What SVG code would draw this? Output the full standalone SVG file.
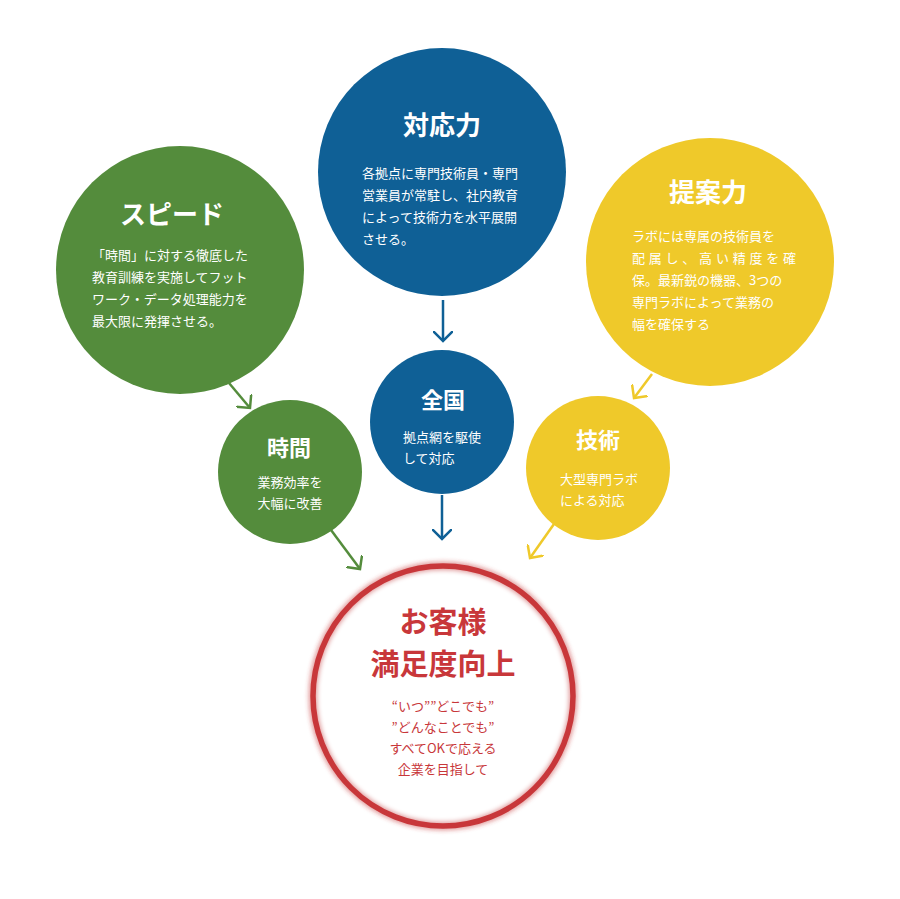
<svg xmlns="http://www.w3.org/2000/svg" width="900" height="899" viewBox="0 0 900 899">
<defs>
<style>
text{font-family:"Noto Sans CJK JP","Noto Sans",sans-serif;fill:#fff}
.t{font-size:26px;font-weight:bold;text-anchor:middle}
.ts{font-size:22px;font-weight:bold;text-anchor:middle}
.b{font-size:13px}
.s{font-size:13px;text-anchor:middle}
.blue{fill:#0f6096}.green{fill:#548c3c}.yellow{fill:#efc92a}
.r{fill:#c8373a}
.ln{fill:none;stroke-width:2.5}
</style>
<filter id="glow" x="-20%" y="-20%" width="140%" height="140%"><feGaussianBlur stdDeviation="2"/></filter>
<marker id="aB" markerWidth="20" markerHeight="20" refX="10" refY="10" orient="auto" markerUnits="userSpaceOnUse"><path d="M0,0 L10,10 L0,20" fill="none" stroke="#0f6096" stroke-width="2.5" transform="translate(0,0)"/></marker>
<marker id="aG" markerWidth="20" markerHeight="20" refX="10" refY="10" orient="auto" markerUnits="userSpaceOnUse"><path d="M0,0 L10,10 L0,20" fill="none" stroke="#548c3c" stroke-width="2.5"/></marker>
<marker id="aY" markerWidth="20" markerHeight="20" refX="10" refY="10" orient="auto" markerUnits="userSpaceOnUse"><path d="M0,0 L10,10 L0,20" fill="none" stroke="#efc92a" stroke-width="2.5"/></marker>
</defs>
<rect width="900" height="899" fill="#fff"/>
<g id="connectors">
<line class="ln" stroke="#0f6096" x1="443" y1="300" x2="443" y2="341" marker-end="url(#aB)"/>
<line class="ln" stroke="#0f6096" x1="442" y1="495" x2="442" y2="539" marker-end="url(#aB)"/>
<line class="ln" stroke="#548c3c" x1="229" y1="383" x2="250" y2="408" marker-end="url(#aG)"/>
<line class="ln" stroke="#548c3c" x1="331" y1="530" x2="360" y2="569" marker-end="url(#aG)"/>
<line class="ln" stroke="#efc92a" x1="652" y1="374" x2="634" y2="398" marker-end="url(#aY)"/>
<line class="ln" stroke="#efc92a" x1="554" y1="524" x2="530" y2="558" marker-end="url(#aY)"/>
</g>
<g id="taiouryoku">
<circle class="blue" cx="442" cy="172" r="124"/>
<text class="t" x="442" y="135">対応力</text>
<text class="b" x="362" y="178">各拠点に専門技術員・専門</text>
<text class="b" x="362" y="200">営業員が常駐し、社内教育</text>
<text class="b" x="362" y="222">によって技術力を水平展開</text>
<text class="b" x="362" y="244">させる。</text>
</g>
<g id="speed">
<circle class="green" cx="180" cy="270" r="124"/>
<text class="t" x="172" y="224">スピード</text>
<text class="b" x="92" y="260">「時間」に対する徹底した</text>
<text class="b" x="92" y="282">教育訓練を実施してフット</text>
<text class="b" x="92" y="304">ワーク・データ処理能力を</text>
<text class="b" x="92" y="326">最大限に発揮させる。</text>
</g>
<g id="teianryoku">
<circle class="yellow" cx="710" cy="262" r="124"/>
<text class="t" x="708" y="202">提案力</text>
<text class="b" x="632" y="241">ラボには専属の技術員を</text>
<text class="b" x="632" y="263" textLength="164" lengthAdjust="spacing">配属し、高い精度を確</text>
<text class="b" x="632" y="285">保。最新鋭の機器、3つの</text>
<text class="b" x="632" y="307">専門ラボによって業務の</text>
<text class="b" x="632" y="329">幅を確保する</text>
</g>
<g id="jikan">
<circle class="green" cx="290" cy="472" r="72"/>
<text class="ts" x="289" y="456">時間</text>
<text class="s" x="290" y="487">業務効率を</text>
<text class="s" x="290" y="508">大幅に改善</text>
</g>
<g id="zenkoku">
<circle class="blue" cx="442" cy="422" r="72"/>
<text class="ts" x="443" y="408">全国</text>
<text class="b" x="403" y="442">拠点網を駆使</text>
<text class="b" x="403" y="463">して対応</text>
</g>
<g id="gijutsu">
<circle class="yellow" cx="598" cy="468" r="72"/>
<text class="ts" x="598" y="448">技術</text>
<text class="b" x="560" y="484">大型専門ラボ</text>
<text class="b" x="560" y="505">による対応</text>
</g>
<g id="goal">
<circle cx="443" cy="696" r="130" fill="#fff" stroke="#c8373a" stroke-width="9" stroke-opacity="0.5" filter="url(#glow)"/>
<circle cx="443" cy="696" r="130" fill="none" stroke="#c8373a" stroke-width="5.5"/>
<text class="t r" x="443" y="633" style="font-size:29px">お客様</text>
<text class="t r" x="443" y="675" style="font-size:29px">満足度向上</text>
<text class="s r" x="443" y="711">“いつ””どこでも”</text>
<text class="s r" x="443" y="732">”どんなことでも”</text>
<text class="s r" x="443" y="753">すべてOKで応える</text>
<text class="s r" x="443" y="774">企業を目指して</text>
</g>
</svg>
